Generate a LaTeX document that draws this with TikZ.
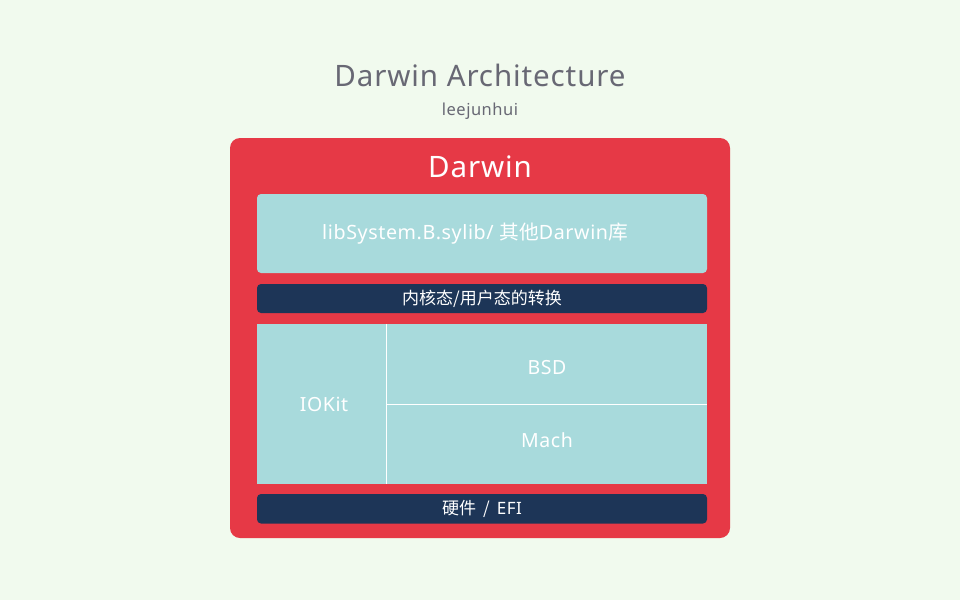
\documentclass[tikz,border=0pt]{standalone}
\usepackage{fontspec}
\setmainfont{Noto Sans}[LetterSpace=3]
\newfontfamily\cjk{Noto Sans CJK SC}
\newfontfamily\latin{Noto Sans}[LetterSpace=3]
\definecolor{bgc}{HTML}{F1FAEE}
\definecolor{redc}{HTML}{E63946}
\definecolor{bluec}{HTML}{A8DADC}
\definecolor{navyc}{HTML}{1D3557}
\definecolor{titlec}{HTML}{686874}
\tikzset{
  lightbox/.style={fill=bluec, draw=none, inner sep=0pt},
  navybar/.style={fill=navyc, draw=none, rounded corners=4pt, inner sep=0pt, text=white, minimum width=450pt, font=\cjk\fontsize{17}{18}\selectfont},
  celltxt/.style={text=white, inner sep=0pt, font=\fontsize{19.5}{22}\selectfont}
}
\begin{document}
\begin{tikzpicture}[x=1pt,y=-1pt]
\fill[bgc] (0,0) rectangle (960,600);
\useasboundingbox (0,0) rectangle (960,600);
\node[text=titlec, font=\fontsize{29.5}{34}\selectfont] (title) at (480,75) {Darwin Architecture};
\node[text=titlec, font=\fontsize{16.5}{19}\selectfont] (author) at (480,111) {leejunhui};
\node[fill=redc, rounded corners=10pt, minimum width=500pt, minimum height=400pt, inner sep=0pt] (darwin) at (480,338) {};
\node[text=white, font=\fontsize{29.5}{36}\selectfont] (darwinlbl) at (480,167) {Darwin};
\node[lightbox, rounded corners=4pt, minimum width=450pt, minimum height=79pt] (lib) at (482,233.5) {};
\node[celltxt, font=\fontsize{19.7}{22}\selectfont] (liblbl) at (475,233.5) {libSystem.B.sylib/ {\cjk 其他}Darwin{\cjk 库}};
\node[navybar, minimum height=29pt] (trans) at (482,298.5) {内核态/用户态的转换};
\node[lightbox, minimum width=129.5pt, minimum height=160pt] (iokit) at (321.75,404) {};
\node[lightbox, minimum width=320.5pt, minimum height=80.5pt] (bsd) at (546.75,364.25) {};
\node[lightbox, minimum width=320.5pt, minimum height=79.5pt] (mach) at (546.75,444.25) {};
\draw[white, line width=1pt] (iokit.north east) -- (iokit.south east);
\draw[white, line width=1pt] (bsd.south west) -- (bsd.south east);
\node[celltxt] (iokitlbl) at (324,404) {IOKit};
\node[celltxt] (bsdlbl) at (547,368) {BSD};
\node[celltxt] (machlbl) at (547,440) {Mach};
\node[navybar, minimum height=29.5pt] (hw) at (482,508.75) {硬件\hspace{7pt}/\hspace{7pt}{\latin EFI}};
\end{tikzpicture}
\end{document}
